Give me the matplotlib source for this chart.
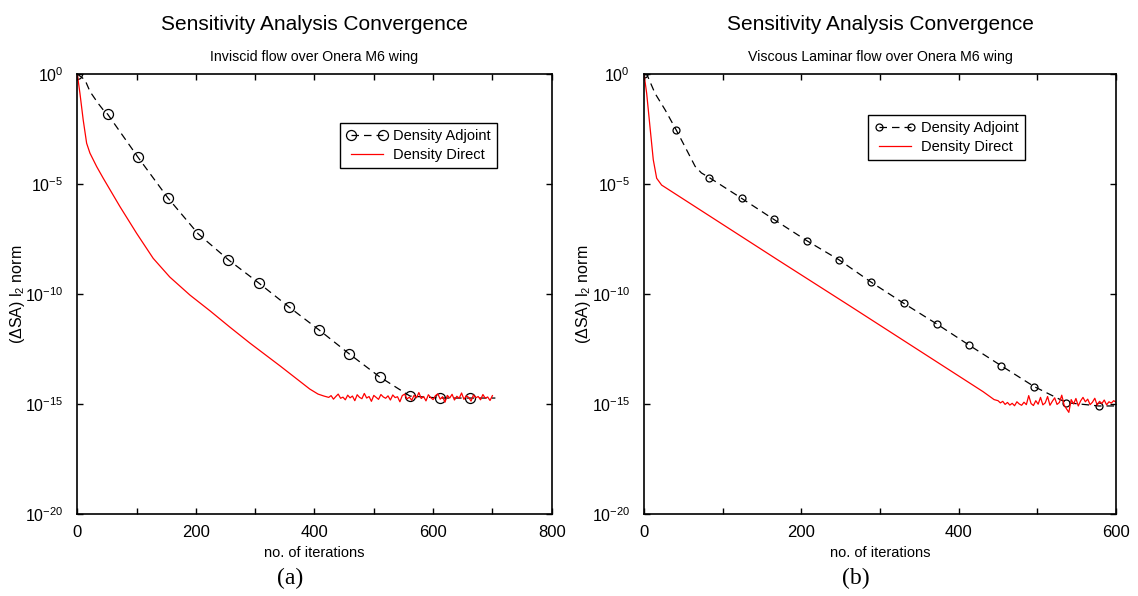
import numpy as np
import matplotlib
matplotlib.use('Agg')
import matplotlib.pyplot as plt
from matplotlib.ticker import FixedLocator, MultipleLocator, FuncFormatter, NullLocator

plt.rcParams['font.family'] = ['Liberation Sans Narrow', 'Liberation Sans', 'DejaVu Sans']
plt.rcParams['mathtext.fontset'] = 'custom'
plt.rcParams['mathtext.rm'] = 'Liberation Sans'
plt.rcParams['mathtext.it'] = 'Liberation Sans:italic'

# ---- (a) inviscid: values are log10 of the L2 norm ----
inv_adj_iter = [0, 13, 21.5, 35, 44, 51, 102, 153, 204, 255, 306, 357, 408, 459, 510, 561, 612, 663, 705]
inv_adj_log = [0, -0.27, -0.8, -1.33, -1.64, -1.82, -3.77, -5.64, -7.27, -8.45, -9.5, -10.59,
               -11.64, -12.73, -13.77, -14.64, -14.73, -14.73, -14.73]
inv_adj_marks = [0, 51, 102, 153, 204, 255, 306, 357, 408, 459, 510, 561, 612, 663]

inv_dir_iter = [0, 4.5, 10, 15.8, 21.4, 32.7, 43.8, 72, 100, 128, 156, 190, 224, 257, 291, 342,
                392, 406, 416]
inv_dir_log = [0, -0.88, -2.09, -3.15, -3.6, -4.21, -4.74, -6.03, -7.24, -8.38, -9.23, -10.05,
               -10.77, -11.5, -12.23, -13.27, -14.32, -14.55, -14.64]
# noisy plateau, iterations 424..700 every 4
inv_noise_log = [-14.70, -14.62, -14.78, -14.66, -14.55, -14.74, -14.69, -14.81, -14.60, -14.72,
                 -14.64, -14.85, -14.58, -14.70, -14.76, -14.52, -14.73, -14.66, -14.88, -14.61,
                 -14.70, -14.79, -14.57, -14.68, -14.74, -14.63, -14.82, -14.59, -14.71, -14.67,
                 -14.90, -14.62, -14.55, -14.77, -14.69, -14.83, -14.60, -14.72, -14.48, -14.75,
                 -14.66, -14.86, -14.58, -14.71, -14.80, -14.62, -14.54, -14.78, -14.67, -14.92,
                 -14.61, -14.73, -14.56, -14.82, -14.65, -14.74, -14.50, -14.79, -14.63, -14.70,
                 -14.87, -14.59, -14.72, -14.66, -14.81, -14.57, -14.74, -14.68, -14.84, -14.62]

# ---- (b) viscous laminar ----
vis_adj_iter = [0, 4, 14, 27, 41, 52, 65, 73, 83, 124, 165, 207, 248, 289, 330, 372, 413, 454,
                496, 537, 578, 600]
vis_adj_log = [0, -0.05, -0.88, -1.64, -2.55, -3.3, -4.2, -4.5, -4.71, -5.65, -6.61, -7.58,
               -8.45, -9.47, -10.42, -11.36, -12.32, -13.26, -14.21, -14.94, -15.09, -15.09]
vis_adj_marks = [0, 41, 83, 124, 165, 207, 248, 289, 330, 372, 413, 454, 496, 537, 578]

vis_dir_iter = [0, 3.4, 7.6, 11.8, 16.1, 22.4, 170, 262, 431, 445]
vis_dir_log = [0, -0.88, -2.4, -3.9, -4.74, -5.05, -8.45, -10.55, -14.44, -14.80]
# noisy plateau, iterations 450..600 every 3
vis_noise_log = [-14.85, -14.95, -14.88, -15.02, -14.93, -15.05, -14.97, -15.08, -14.90, -15.00,
                 -15.06, -14.92, -15.03, -14.62, -14.98, -15.07, -14.85, -15.01, -14.70, -15.04,
                 -14.95, -14.66, -15.06, -14.88, -14.72, -15.02, -14.93, -14.60, -15.05, -15.22,
                 -15.38, -14.80, -15.00, -14.75, -15.09, -14.86, -14.70, -14.90, -14.78, -15.03,
                 -14.92, -14.74, -15.05, -14.88, -14.98, -14.82, -15.04, -14.90, -14.96, -14.85,
                 -14.92]

titles = ['Inviscid flow over Onera M6 wing', 'Viscous Laminar flow over Onera M6 wing']
panel_tags = ['(a)', '(b)']


def fmt_pow(v, pos):
    e = int(round(np.log10(v)))
    return r'$\mathregular{10^{%d}}$' % e


def draw_panel(ax, adj_it, adj_log, marks, dir_it, dir_log, noise_start, noise_step, noise_log,
               xmax, ms, leg_anchor):
    noise_it = np.arange(len(noise_log)) * noise_step + noise_start
    d_it = list(dir_it) + list(noise_it)
    d_val = 10.0 ** np.array(list(dir_log) + list(noise_log))
    idx = [i for i, v in enumerate(adj_it) if v in marks]
    ax.plot(adj_it, 10.0 ** np.array(adj_log), color='black', lw=0.9, ls=(0, (6, 4)),
            marker='o', ms=ms, mfc='none', mec='black', mew=0.9, markevery=idx,
            label='Density Adjoint')
    ax.plot(d_it, d_val, color='red', lw=0.9, label='Density Direct')

    ax.set_yscale('log')
    ax.set_ylim(1e-20, 1e0)
    ax.set_xlim(0, xmax)
    ax.yaxis.set_major_locator(FixedLocator([1e-20, 1e-15, 1e-10, 1e-5, 1e0]))
    ax.yaxis.set_minor_locator(NullLocator())
    ax.yaxis.set_major_formatter(FuncFormatter(fmt_pow))
    ax.xaxis.set_major_locator(MultipleLocator(200))
    ax.xaxis.set_minor_locator(MultipleLocator(100))
    ax.tick_params(which='both', direction='in', top=True, right=True, length=4, width=1.0,
                   labelsize=12)
    ax.tick_params(axis='y', pad=10, labelsize=11.5)
    ax.tick_params(axis='x', pad=8)
    for s in ax.spines.values():
        s.set_linewidth(1.2)
    ax.set_xlabel('no. of iterations', fontsize=10.5, labelpad=4)
    ax.set_ylabel('(ΔSA) l$_2$ norm', fontsize=11.5)
    ax.yaxis.set_label_coords(-0.107, 0.5)
    leg = ax.legend(loc='upper left', bbox_to_anchor=leg_anchor, borderaxespad=0, numpoints=2,
                    handlelength=2.8, handletextpad=0.35, borderpad=0.45, labelspacing=0.3,
                    fontsize=10.5, fancybox=False, framealpha=1)
    leg.get_frame().set_edgecolor('black')
    leg.get_frame().set_linewidth(1.0)


fig = plt.figure(figsize=(11.38, 5.96), dpi=100)
ax1 = fig.add_axes([0.0679, 0.1376, 0.4169, 0.7383])
ax2 = fig.add_axes([0.5659, 0.1376, 0.4148, 0.7383])

draw_panel(ax1, inv_adj_iter, inv_adj_log, inv_adj_marks, inv_dir_iter, inv_dir_log,
           424, 4, inv_noise_log, 800, 7.2, (0.554, 0.889))
draw_panel(ax2, vis_adj_iter, vis_adj_log, vis_adj_marks, vis_dir_iter, vis_dir_log,
           450, 3, vis_noise_log, 600, 5.0, (0.4746, 0.907))

for ax, sub, tag in zip([ax1, ax2], titles, panel_tags):
    pos = ax.get_position()
    xc = (pos.x0 + pos.x1) / 2
    fig.text(xc, 1 - 24 / 596, 'Sensitivity Analysis Convergence', ha='center', va='center',
             fontsize=15)
    fig.text(xc, 1 - 57 / 596, sub, ha='center', va='center', fontsize=10.2)
    fig.text(xc - 24 / 1138, 1 - 578 / 596, tag, ha='center', va='center', fontsize=17,
             family=['Liberation Serif', 'DejaVu Serif'])

fig.savefig('out.png', dpi=100)
